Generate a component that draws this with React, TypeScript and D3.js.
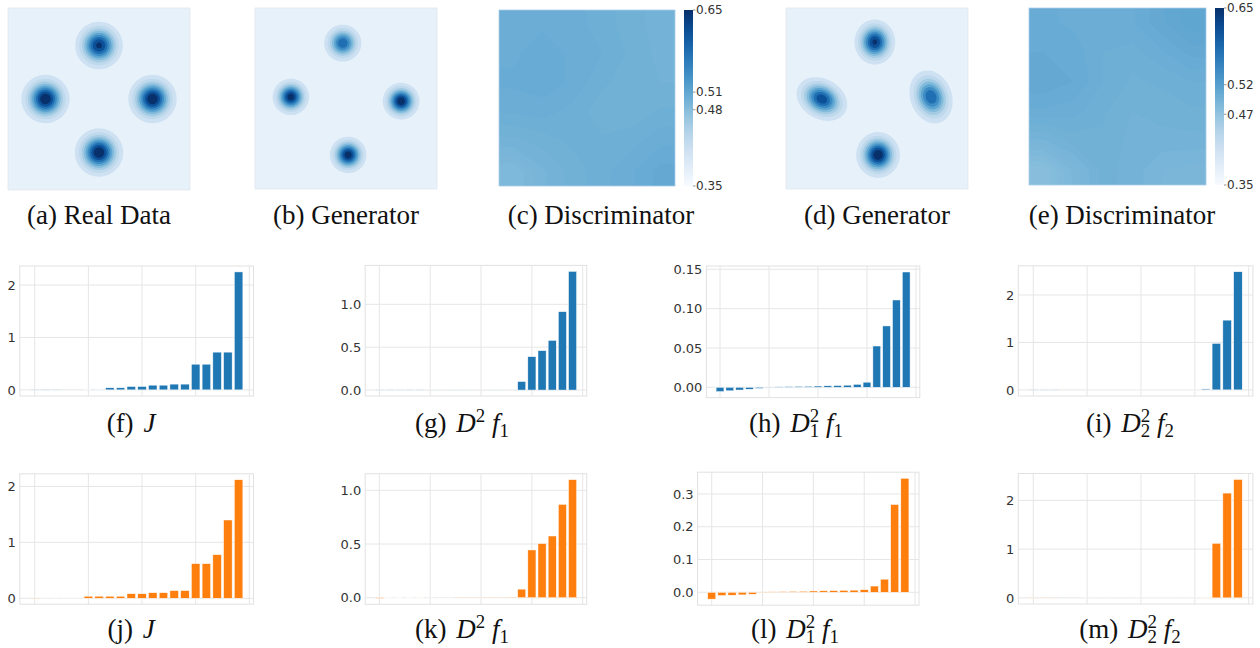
import React from 'react';
import * as d3 from 'd3';

// ---------- top row: kde panels (blob centres in data units, domain +-1.7) ----------
const EXT = 1.7;

const realCx = [0, -1.0, 1.0, 0];
const realCy = [1.0, 0, 0, -1.0];
const realSx = [0.21, 0.21, 0.21, 0.21];
const realSy = [0.21, 0.21, 0.21, 0.21];
const realRot = [0, 0, 0, 0];
const realAmp = [0.93, 1, 1, 1];

const gen1Cx = [-0.06, -1.03, 1.03, 0.04];
const gen1Cy = [1.04, 0.03, -0.05, -1.06];
const gen1Sx = [0.17, 0.16, 0.16, 0.16];
const gen1Sy = [0.17, 0.16, 0.16, 0.16];
const gen1Rot = [0, 0, 0, 0];
const gen1Amp = [0.8, 0.97, 1, 0.98];

const gen2Cx = [-0.04, -1.03, 1.01, 0.02];
const gen2Cy = [1.06, -0.01, 0.03, -1.06];
const gen2Sx = [0.18, 0.24, 0.25, 0.19];
const gen2Sy = [0.2, 0.18, 0.19, 0.2];
const gen2Rot = [0, -30, -70, 0];
const gen2Amp = [0.93, 0.88, 0.8, 1];

// discriminator output, 6x6 grid, rows top -> bottom
const disc1Grid = [
  0.500, 0.502, 0.501, 0.499, 0.496, 0.494,
  0.502, 0.504, 0.502, 0.500, 0.497, 0.494,
  0.503, 0.504, 0.502, 0.498, 0.496, 0.495,
  0.500, 0.501, 0.499, 0.496, 0.496, 0.498,
  0.494, 0.496, 0.498, 0.498, 0.499, 0.502,
  0.485, 0.492, 0.496, 0.499, 0.502, 0.506,
];
const disc2Grid = [
  0.503, 0.502, 0.500, 0.502, 0.507, 0.512,
  0.505, 0.504, 0.500, 0.499, 0.502, 0.506,
  0.507, 0.505, 0.500, 0.497, 0.498, 0.500,
  0.502, 0.501, 0.498, 0.495, 0.496, 0.497,
  0.492, 0.496, 0.497, 0.494, 0.494, 0.494,
  0.478, 0.488, 0.496, 0.494, 0.490, 0.489,
];
const cbarDomain = [0.35, 0.65];
const disc1Ticks = [0.35, 0.48, 0.51, 0.65];
const disc2Ticks = [0.35, 0.47, 0.52, 0.65];

// ---------- bar charts: sorted eigenvalues ----------
const fVals = [-0.004, -0.004, -0.003, 0, 0, 0.01, 0.012, 0.04, 0.04, 0.065, 0.065, 0.09, 0.09, 0.11, 0.11, 0.49, 0.49, 0.72, 0.72, 2.25];
const gVals = [0.002, 0.002, 0.002, 0.002, 0.002, 0.001, 0.001, 0.001, 0.001, 0.001, 0.001, 0.001, 0.001, 0.001, 0.1, 0.39, 0.46, 0.58, 0.915, 1.385];
const hVals = [-0.0055, -0.0045, -0.0035, -0.0025, -0.0015, 0.0003, 0.0006, 0.0009, 0.0011, 0.0013, 0.0016, 0.0019, 0.0022, 0.0027, 0.0038, 0.0065, 0.0525, 0.078, 0.111, 0.1466];
const iVals = [-0.004, -0.004, -0.004, 0, 0, 0.001, 0.001, 0.001, 0.001, 0.001, 0.001, 0.001, 0.001, 0.001, 0.001, 0.001, 0.02, 0.98, 1.47, 2.49];
const jVals = [0.005, 0.001, 0.001, 0.001, 0.001, 0.037, 0.037, 0.037, 0.037, 0.082, 0.082, 0.1, 0.1, 0.137, 0.137, 0.62, 0.62, 0.78, 1.4, 2.12];
const kVals = [-0.006, -0.002, -0.002, -0.002, -0.002, 0.0005, 0.0005, 0.0005, 0.002, 0.002, 0.002, 0.002, 0.002, 0.003, 0.08, 0.445, 0.505, 0.575, 0.87, 1.1];
const lVals = [-0.021, -0.01, -0.009, -0.008, -0.006, 0.001, 0.0015, 0.002, 0.0025, 0.003, 0.004, 0.0045, 0.005, 0.006, 0.0065, 0.008, 0.019, 0.04, 0.268, 0.348];
const mVals = [-0.004, -0.003, -0.003, 0, 0, 0.001, 0.001, 0.001, 0.001, 0.001, 0.001, 0.001, 0.001, 0.001, 0.001, 0.001, 0.012, 1.12, 2.15, 2.43];

const ticksInt = [0, 1, 2];
const ticksHalf = [0, 0.5, 1.0];
const ticksH = [0, 0.05, 0.1, 0.15];
const ticksL = [0, 0.1, 0.2, 0.3];
const xGrid = [0, 5, 10, 15, 20];

const BLUE = '#1f77b4';
const ORANGE = '#ff7f0e';
const F = 27;

type Seg = { t: string; it?: boolean; sup?: boolean; sub?: boolean; back?: number; gap?: number };

const capJ = (l: string): Seg[] => [{ t: `(${l})` }, { t: '\u00a0', gap: 3 }, { t: 'J', it: true }];
const capD2 = (l: string): Seg[] => [{ t: `(${l})` }, { t: '\u00a0', gap: 3 }, { t: 'D', it: true }, { t: '2', sup: true }, { t: '\u00a0' }, { t: 'f', it: true }, { t: '1', sub: true }];
const capDii = (l: string, k: string): Seg[] => [{ t: `(${l})` }, { t: '\u00a0', gap: 3 }, { t: 'D', it: true }, { t: '2', sup: true }, { t: k, sub: true, back: 0.35 }, { t: '\u00a0' }, { t: 'f', it: true }, { t: k, sub: true }];

function Caption({ x, y, segs }: { x: number; y: number; segs: Seg[] }) {
  let cur = 0;
  return (
    <text x={x} y={y} textAnchor="middle" fontFamily="Liberation Serif" fontSize={F} fill="#111">
      {segs.map((s, i) => {
        const target = s.sup ? -0.38 * F : s.sub ? 0.18 * F : 0;
        const dy = target - cur;
        cur = target;
        const dx = s.back ? -s.back * F : s.gap || 0;
        return (
          <tspan key={i} dy={dy} dx={dx} fontSize={s.sup || s.sub ? 0.7 * F : F} fontStyle={s.it ? 'italic' : 'normal'}>
            {s.t}
          </tspan>
        );
      })}
    </text>
  );
}

function DensityPanel(props: any) {
  const { x, y, w, h, cx, cy, sx, sy, rot, amp } = props;
  const N = 140;
  const values = new Float64Array(N * N);
  for (let j = 0; j < N; j++) {
    const py = EXT - ((j + 0.5) * 2 * EXT) / N;
    for (let i = 0; i < N; i++) {
      const px = -EXT + ((i + 0.5) * 2 * EXT) / N;
      let v = 0;
      for (let k = 0; k < cx.length; k++) {
        const th = (rot[k] * Math.PI) / 180;
        const dx = px - cx[k], dy = py - cy[k];
        const u = dx * Math.cos(th) + dy * Math.sin(th);
        const q = -dx * Math.sin(th) + dy * Math.cos(th);
        v += amp[k] * Math.exp(-(u * u) / (2 * sx[k] * sx[k]) - (q * q) / (2 * sy[k] * sy[k]));
      }
      values[j * N + i] = v;
    }
  }
  const mx = d3.max(values) as number;
  const thresholds = d3.range(1, 10).map((k) => (mx * k) / 10);
  const contours = d3.contours().size([N, N]).thresholds(thresholds)(values as any);
  const path = d3.geoPath();
  return (
    <g transform={`translate(${x},${y})`}>
      <rect width={w} height={h} fill={d3.interpolateBlues(0.08)} />
      <g transform={`scale(${w / N},${h / N})`}>
        {contours.map((c, i) => (
          <path key={i} d={path(c as any) || ''} fill={d3.interpolateBlues(0.16 + 0.84 * Math.pow((i + 1) / 9, 1.35))} />
        ))}
      </g>
      <rect width={w} height={h} fill="none" stroke="#e1e7ee" strokeWidth={0.8} />
    </g>
  );
}

function DiscPanel(props: any) {
  const { x, y, w, h, grid, cbx, cby0, cby1, ticks, id } = props;
  const n = 6;
  // replicate the edge cells so the contours reach the panel border
  const m = n + 2;
  const padded: number[] = [];
  for (let r = 0; r < m; r++) {
    for (let c = 0; c < m; c++) {
      const rr = Math.min(n - 1, Math.max(0, r - 1));
      const cc = Math.min(n - 1, Math.max(0, c - 1));
      padded.push(grid[rr * n + cc]);
    }
  }
  const color = d3.scaleSequential(d3.interpolateBlues).domain(cbarDomain as [number, number]);
  const th = d3.range(cbarDomain[0], cbarDomain[1], 0.0025);
  const contours = d3.contours().size([m, m]).thresholds(th)(padded);
  const path = d3.geoPath();
  const cy = d3.scaleLinear().domain(cbarDomain).range([cby1, cby0]);
  const stops = d3.range(0, 1.0001, 0.1);
  return (
    <g>
      <defs>
        <clipPath id={id + 'clip'}>
          <rect x={x} y={y} width={w} height={h} />
        </clipPath>
        <linearGradient id={id} x1="0" y1="1" x2="0" y2="0">
          {stops.map((t, i) => (
            <stop key={i} offset={t} stopColor={d3.interpolateBlues(t)} />
          ))}
        </linearGradient>
      </defs>
      <g clipPath={`url(#${id}clip)`}>
        <g transform={`translate(${x - w / n},${y - h / n}) scale(${w / n},${h / n})`}>
          {contours.map((c, i) => (
            <path key={i} d={path(c as any) || ''} fill={color((c as any).value + 0.00125)} />
          ))}
        </g>
      </g>
      <rect x={x} y={y} width={w} height={h} fill="none" stroke="#a9cde6" strokeWidth={0.8} />
      <rect x={cbx} y={cby0} width={9} height={cby1 - cby0} fill={`url(#${id})`} />
      {ticks.map((t: number) => (
        <g key={t} transform={`translate(${cbx + 9},${cy(t)})`}>
          <line x1={0} x2={2.5} stroke="#777" strokeWidth={0.8} />
          <text x={3} dy="0.36em" fontFamily="DejaVu Sans" fontSize={12} fill="#333">
            {d3.format('.2f')(t)}
          </text>
        </g>
      ))}
    </g>
  );
}

function BarPanel(props: any) {
  const { x0, x1, y0, y1, values, ticks, fmt, color } = props;
  const n = values.length;
  const lo = -0.4, hi = n - 1 + 0.4;
  const pad = 0.05 * (hi - lo);
  const xs = d3.scaleLinear().domain([lo - pad, hi + pad]).range([x0, x1]);
  const vmin = Math.min(0, d3.min(values) as number);
  const vmax = Math.max(0, d3.max(values) as number);
  const sp = vmax - vmin;
  const ys = d3.scaleLinear().domain([vmin - 0.05 * sp, vmax + 0.05 * sp]).range([y1, y0]);
  const f = d3.format(fmt);
  return (
    <g>
      <rect x={x0} y={y0} width={x1 - x0} height={y1 - y0} fill="#fff" />
      {xGrid.map((g) => (
        <line key={'x' + g} x1={xs(g)} x2={xs(g)} y1={y0} y2={y1} stroke="#e6e6e6" strokeWidth={1} />
      ))}
      {ticks.map((t: number) => (
        <line key={'y' + t} x1={x0} x2={x1} y1={ys(t)} y2={ys(t)} stroke="#e6e6e6" strokeWidth={1} />
      ))}
      {values.map((v: number, i: number) => (
        <rect
          key={i}
          x={xs(i - 0.4)}
          width={xs(i + 0.4) - xs(i - 0.4)}
          y={ys(Math.max(v, 0))}
          height={Math.abs(ys(v) - ys(0))}
          fill={color}
          stroke="#fff"
          strokeWidth={0.5}
        />
      ))}
      <rect x={x0} y={y0} width={x1 - x0} height={y1 - y0} fill="none" stroke="#e2e2e2" strokeWidth={1} />
      {ticks.map((t: number) => (
        <text key={'l' + t} x={x0 - 4} y={ys(t)} dy="0.36em" textAnchor="end" fontFamily="DejaVu Sans" fontSize={13} fill="#333">
          {f(t)}
        </text>
      ))}
    </g>
  );
}

export default function App() {
  const rowTop = 224;
  const row1 = 432;
  const row2 = 638;
  return (
    <svg width={1260} height={648} style={{ position: 'absolute', left: 0, top: 0, background: '#fff' }}>
      <DensityPanel x={8} y={8} w={182} h={182} cx={realCx} cy={realCy} sx={realSx} sy={realSy} rot={realRot} amp={realAmp} />
      <DensityPanel x={255} y={8} w={182} h={181} cx={gen1Cx} cy={gen1Cy} sx={gen1Sx} sy={gen1Sy} rot={gen1Rot} amp={gen1Amp} />
      <DiscPanel id="cb1" x={499} y={10} w={176} h={176} grid={disc1Grid} cbx={684} cby0={10} cby1={186} ticks={disc1Ticks} />
      <DensityPanel x={786} y={8} w={182} h={181} cx={gen2Cx} cy={gen2Cy} sx={gen2Sx} sy={gen2Sy} rot={gen2Rot} amp={gen2Amp} />
      <DiscPanel id="cb2" x={1029} y={8} w={177} h={177} grid={disc2Grid} cbx={1215} cby0={8} cby1={185} ticks={disc2Ticks} />

      <Caption x={99} y={rowTop} segs={[{ t: '(a) Real Data' }]} />
      <Caption x={346} y={rowTop} segs={[{ t: '(b) Generator' }]} />
      <Caption x={601} y={rowTop} segs={[{ t: '(c) Discriminator' }]} />
      <Caption x={877} y={rowTop} segs={[{ t: '(d) Generator' }]} />
      <Caption x={1122} y={rowTop} segs={[{ t: '(e) Discriminator' }]} />

      <BarPanel x0={19.8} x1={253.5} y0={266} y1={396} values={fVals} ticks={ticksInt} fmt="d" color={BLUE} />
      <BarPanel x0={365.2} x1={586.7} y0={265.4} y1={396} values={gVals} ticks={ticksHalf} fmt=".1f" color={BLUE} />
      <BarPanel x0={706.4} x1={919.8} y0={266} y1={397.6} values={hVals} ticks={ticksH} fmt=".2f" color={BLUE} />
      <BarPanel x0={1018.3} x1={1252.9} y0={265.8} y1={396} values={iVals} ticks={ticksInt} fmt="d" color={BLUE} />

      <BarPanel x0={19.8} x1={253.5} y0={473.8} y1={604.2} values={jVals} ticks={ticksInt} fmt="d" color={ORANGE} />
      <BarPanel x0={365.2} x1={586.7} y0={473.7} y1={604.3} values={kVals} ticks={ticksHalf} fmt=".1f" color={ORANGE} />
      <BarPanel x0={697.6} x1={919} y0={472.2} y1={605.2} values={lVals} ticks={ticksL} fmt=".1f" color={ORANGE} />
      <BarPanel x0={1018.3} x1={1252.9} y0={473.5} y1={604} values={mVals} ticks={ticksInt} fmt="d" color={ORANGE} />

      <Caption x={131} y={row1} segs={capJ('f')} />
      <Caption x={462} y={row1} segs={capD2('g')} />
      <Caption x={796} y={row1} segs={capDii('h', '1')} />
      <Caption x={1130} y={row1} segs={capDii('i', '2')} />

      <Caption x={131} y={row2} segs={capJ('j')} />
      <Caption x={462} y={row2} segs={capD2('k')} />
      <Caption x={795} y={row2} segs={capDii('l', '1')} />
      <Caption x={1130} y={row2} segs={capDii('m', '2')} />
    </svg>
  );
}
